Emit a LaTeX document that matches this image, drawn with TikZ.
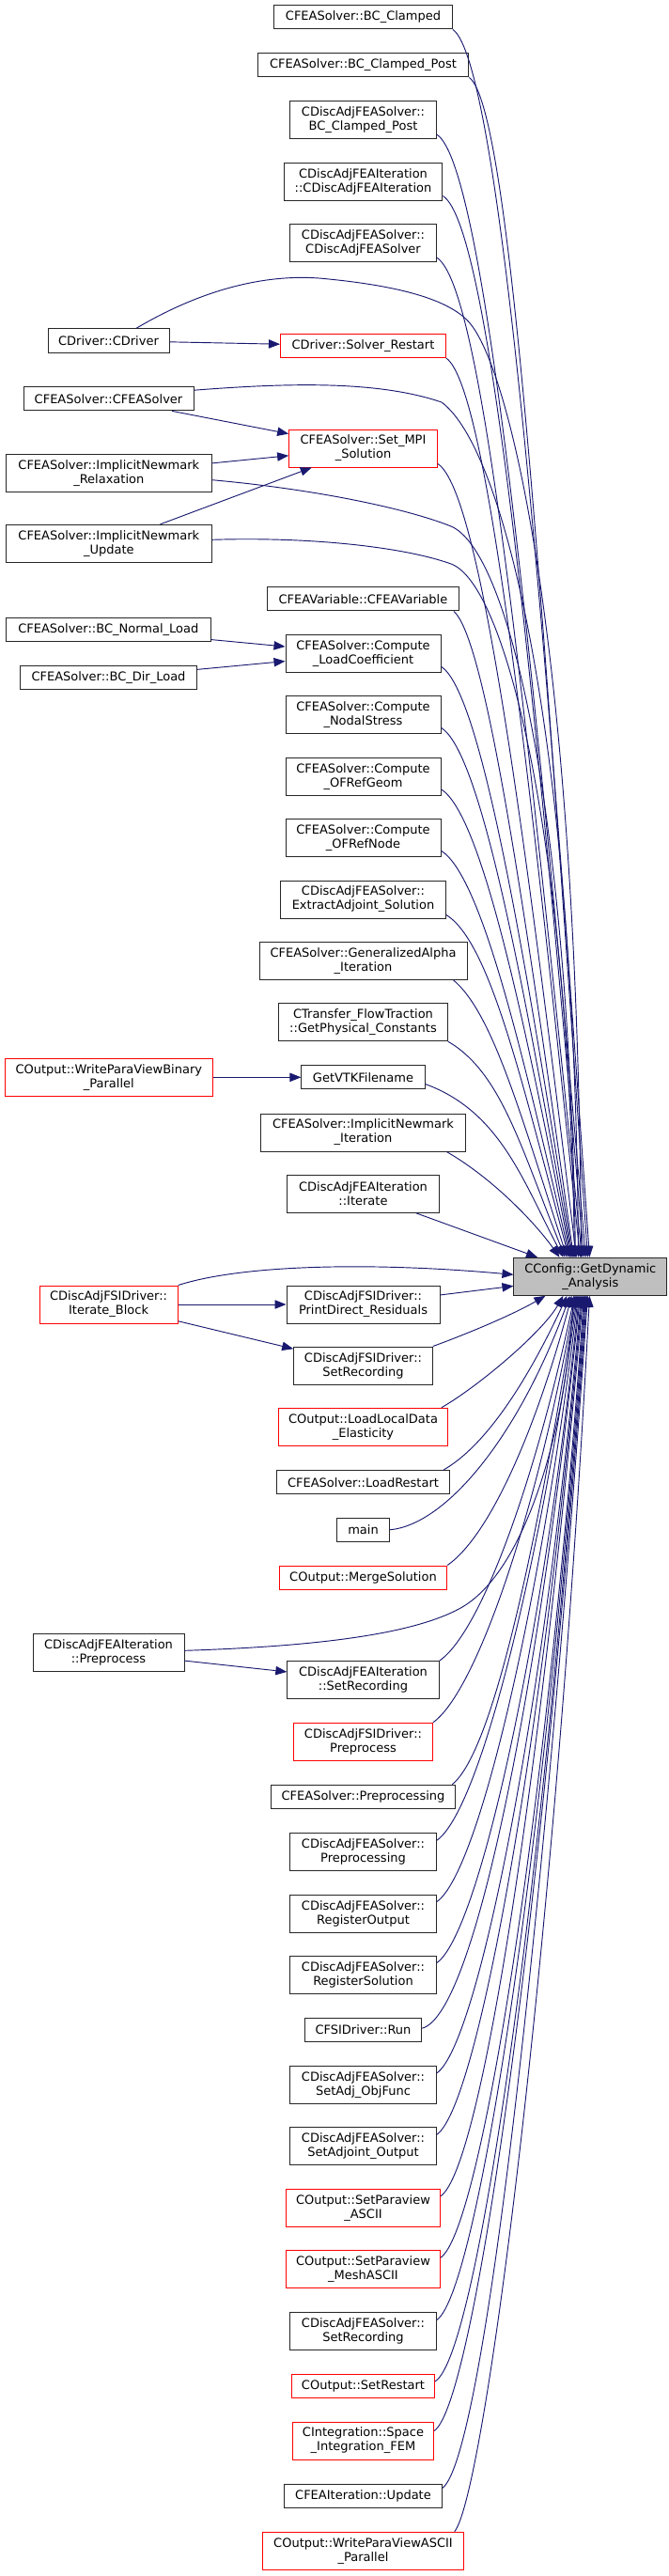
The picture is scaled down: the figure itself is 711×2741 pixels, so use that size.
\documentclass[tikz,border=0pt]{standalone}
\usepackage{fontspec}
\setmainfont{DejaVu Sans}
\usetikzlibrary{arrows.meta,calc}
\definecolor{edgeblue}{HTML}{191970}
\definecolor{nodered}{HTML}{FF0000}
\definecolor{tgtgray}{HTML}{BFBFBF}
\begin{document}
\begin{tikzpicture}[x=0.75pt,y=-0.75pt,
  fn/.style={draw=black!85, line width=0.75pt, fill=white, align=center, inner sep=0pt,
    font=\fontsize{9.75}{11.25}\selectfont, text=black},
  rn/.style={fn, draw=nodered},
  tn/.style={fn, fill=tgtgray},
  one/.style={minimum height=19pt},
  two/.style={minimum height=30pt},
  edge/.style={draw=edgeblue, line width=0.7pt, -{Triangle[length=9pt,width=7pt]}, fill=none}
]
\useasboundingbox (0,0) rectangle (711,2741);
% ---------- nodes ----------
\node[fn,one,minimum width=142.5pt] (bcc) at (386.5,18.3) {CFEASolver::BC\_Clamped};
\node[fn,one,minimum width=168.5pt] (bccp) at (386.5,69.3) {CFEASolver::BC\_Clamped\_Post};
\node[fn,two,minimum width=116.9pt] (dabcp) at (386.5,127.7) {CDiscAdjFEASolver::\\BC\_Clamped\_Post};
\node[fn,two,minimum width=126.6pt] (dafeait) at (386.5,193) {CDiscAdjFEAIteration\\::CDiscAdjFEAIteration};
\node[fn,two,minimum width=116.9pt] (dafeas) at (386.5,258.7) {CDiscAdjFEASolver::\\CDiscAdjFEASolver};
\node[fn,one,minimum width=96.75pt] (cdrv) at (115.5,362.5) {CDriver::CDriver};
\node[rn,one,minimum width=132pt] (solrest) at (386.5,368) {CDriver::Solver\_Restart};
\node[fn,one,minimum width=135.75pt] (cfeas) at (115.5,424.2) {CFEASolver::CFEASolver};
\node[rn,two,minimum width=118.3pt] (setmpi) at (386.5,477) {CFEASolver::Set\_MPI\\\_Solution};
\node[fn,two,minimum width=164.1pt] (relax) at (115.8,503.7) {CFEASolver::ImplicitNewmark\\\_Relaxation};
\node[fn,two,minimum width=164.1pt] (update) at (115.8,578.3) {CFEASolver::ImplicitNewmark\\\_Update};
\node[fn,one,minimum width=152.8pt] (cfeavar) at (386.5,637.3) {CFEAVariable::CFEAVariable};
\node[fn,one,minimum width=163.4pt] (bcnl) at (115.3,670.3) {CFEASolver::BC\_Normal\_Load};
\node[fn,two,minimum width=123.75pt] (loadcoef) at (386.5,695.8) {CFEASolver::Compute\\\_LoadCoefficient};
\node[fn,one,minimum width=141.2pt] (bcdl) at (115.5,721.2) {CFEASolver::BC\_Dir\_Load};
\node[fn,two,minimum width=123.75pt] (nodal) at (386.5,760.8) {CFEASolver::Compute\\\_NodalStress};
\node[fn,two,minimum width=123.75pt] (ofrg) at (386.5,826.3) {CFEASolver::Compute\\\_OFRefGeom};
\node[fn,two,minimum width=123.75pt] (ofrn) at (386.5,891.7) {CFEASolver::Compute\\\_OFRefNode};
\node[fn,two,minimum width=132pt] (extract) at (386.5,957) {CDiscAdjFEASolver::\\ExtractAdjoint\_Solution};
\node[fn,two,minimum width=165.75pt] (genalpha) at (386.5,1022.3) {CFEASolver::GeneralizedAlpha\\\_Iteration};
\node[fn,two,minimum width=134.7pt] (getphys) at (386.5,1087.7) {CTransfer\_FlowTraction\\::GetPhysical\_Constants};
\node[rn,two,minimum width=166.1pt] (wpvb) at (115.8,1146.3) {COutput::WriteParaViewBinary\\\_Parallel};
\node[fn,one,minimum width=98.4pt] (getvtk) at (386.5,1146.3) {GetVTKFilename};
\node[fn,two,minimum width=164pt] (inewit) at (386.5,1205) {CFEASolver::ImplicitNewmark\\\_Iteration};
\node[fn,two,minimum width=121.35pt] (iter) at (386.5,1270.3) {CDiscAdjFEAIteration\\::Iterate};
\node[tn,two,minimum width=122pt] (T) at (628.3,1358.3) {CConfig::GetDynamic\\\_Analysis};
\node[rn,two,minimum width=110.4pt] (iterblock) at (115.6,1388) {CDiscAdjFSIDriver::\\Iterate\_Block};
\node[fn,two,minimum width=122.25pt] (printdr) at (386.5,1388) {CDiscAdjFSIDriver::\\PrintDirect\_Residuals};
\node[fn,two,minimum width=110.7pt] (fsisetrec) at (386.5,1453) {CDiscAdjFSIDriver::\\SetRecording};
\node[rn,two,minimum width=134.7pt] (loadlocal) at (386.5,1518.3) {COutput::LoadLocalData\\\_Elasticity};
\node[fn,one,minimum width=138.15pt] (loadrestart) at (386.5,1577.2) {CFEASolver::LoadRestart};
\node[fn,one,minimum width=41.5pt] (main) at (386.5,1627.8) {main};
\node[rn,one,minimum width=133.8pt] (merge) at (386.5,1678.7) {COutput::MergeSolution};
\node[fn,two,minimum width=120.75pt] (preproc) at (115.5,1758.3) {CDiscAdjFEAIteration\\::Preprocess};
\node[fn,two,minimum width=121pt] (feasetrec) at (386.5,1787.7) {CDiscAdjFEAIteration\\::SetRecording};
\node[rn,two,minimum width=110.7pt] (fsiprep) at (386.5,1853.3) {CDiscAdjFSIDriver::\\Preprocess};
\node[fn,one,minimum width=147.4pt] (cfeaprep) at (386.5,1911.8) {CFEASolver::Preprocessing};
\node[fn,two,minimum width=116.9pt] (daprep) at (386.5,1970.7) {CDiscAdjFEASolver::\\Preprocessing};
\node[fn,two,minimum width=116.9pt] (dareg) at (386.5,2036) {CDiscAdjFEASolver::\\RegisterOutput};
\node[fn,two,minimum width=116.9pt] (daregsol) at (386.5,2101) {CDiscAdjFEASolver::\\RegisterSolution};
\node[fn,one,minimum width=93.4pt] (fsirun) at (386.5,2159.7) {CFSIDriver::Run};
\node[fn,two,minimum width=116.9pt] (dasetadj) at (386.5,2218.3) {CDiscAdjFEASolver::\\SetAdj\_ObjFunc};
\node[fn,two,minimum width=116.9pt] (dasetadjout) at (386.5,2283.7) {CDiscAdjFEASolver::\\SetAdjoint\_Output};
\node[rn,two,minimum width=123pt] (spascii) at (386.5,2349.3) {COutput::SetParaview\\\_ASCII};
\node[rn,two,minimum width=123pt] (spmesh) at (386.5,2414.7) {COutput::SetParaview\\\_MeshASCII};
\node[fn,two,minimum width=116.9pt] (dasetrec) at (386.5,2480) {CDiscAdjFEASolver::\\SetRecording};
\node[rn,one,minimum width=113.85pt] (setrestart) at (386.5,2538.7) {COutput::SetRestart};
\node[rn,two,minimum width=112.8pt] (spaceint) at (386.5,2597) {CIntegration::Space\\\_Integration\_FEM};
\node[fn,one,minimum width=125.55pt] (feaupdate) at (386.5,2655.7) {CFEAIteration::Update};
\node[rn,two,minimum width=160pt] (wpva) at (386.5,2714.3) {COutput::WriteParaViewASCII\\\_Parallel};
% ---------- straight edges ----------
\draw[edge] (cdrv) -- (solrest);
\draw[edge] (cfeas) -- (setmpi);
\draw[edge] (relax) -- (setmpi);
\draw[edge] (update) -- (setmpi);
\draw[edge] (bcnl) -- (loadcoef);
\draw[edge] (bcdl) -- (loadcoef);
\draw[edge] (wpvb) -- (getvtk);
\draw[edge] (iterblock) -- (printdr);
\draw[edge] (iterblock) -- (fsisetrec);
\draw[edge] (preproc) -- (feasetrec);
\draw[edge] (iter) -- (T);
\draw[edge] (printdr) -- (T);
% ---------- edges from above into the target ----------
\draw[edge] (bcc.south east) to[out=-35,in=94,out distance=45pt,in distance=525pt] ($(T.north west)+(81,0)$);
\draw[edge] (bccp.south east) to[out=-35,in=94,out distance=41pt,in distance=502pt] ($(T.north west)+(79,0)$);
\draw[edge] ($(dabcp.south east)+(0,-5)$) to[out=-32,in=95,out distance=45pt,in distance=480pt] ($(T.north west)+(77,0)$);
\draw[edge] ($(dafeait.south east)+(0,-5)$) to[out=-32,in=95,out distance=45pt,in distance=450pt] ($(T.north west)+(75,0)$);
\draw[edge] ($(dafeas.south east)+(0,-5)$) to[out=-32,in=96,out distance=45pt,in distance=420pt] ($(T.north west)+(73,0)$);
\draw[edge] (solrest.south east) to[out=-35,in=96,out distance=41pt,in distance=375pt] ($(T.north west)+(71,0)$);
\draw[edge] ($(setmpi.south east)+(0,-4)$) to[out=-32,in=97,out distance=41pt,in distance=330pt] ($(T.north west)+(67,0)$);
\draw[edge] ($(cfeavar.south east)+(-6,0)$) to[out=-40,in=98,out distance=34pt,in distance=270pt] ($(T.north west)+(64,0)$);
\draw[edge] ($(loadcoef.south east)+(0,-7)$) to[out=-32,in=99,out distance=37.5pt,in distance=247pt] ($(T.north west)+(63,0)$);
\draw[edge] ($(nodal.south east)+(0,-7)$) to[out=-32,in=100,out distance=37.5pt,in distance=225pt] ($(T.north west)+(62,0)$);
\draw[edge] ($(ofrg.south east)+(0,-7)$) to[out=-32,in=101,out distance=37.5pt,in distance=199pt] ($(T.north west)+(61,0)$);
\draw[edge] ($(ofrn.south east)+(0,-7)$) to[out=-32,in=103,out distance=37.5pt,in distance=172pt] ($(T.north west)+(60,0)$);
\draw[edge] ($(extract.south east)+(0,-4)$) to[out=-32,in=105,out distance=41pt,in distance=146pt] ($(T.north west)+(59,0)$);
\draw[edge] ($(genalpha.south east)+(-15,0)$) to[out=-40,in=108,out distance=41pt,in distance=120pt] ($(T.north west)+(57,0)$);
\draw[edge] (getphys.south east) to[out=-30,in=112,out distance=49pt,in distance=94pt] ($(T.north west)+(55,0)$);
\draw[edge] ($(getvtk.south east)+(0,-6)$) to[out=-20,in=118,out distance=64pt,in distance=67.5pt] ($(T.north west)+(53,0)$);
\draw[edge] ($(inewit.south east)+(-21,0)$) to[out=-30,in=125,out distance=45pt,in distance=30pt] ($(T.north west)+(49,0)$);
% long edges from the left column
\draw[edge] ($(cdrv.north)+(29.5,0)$) .. controls (220,305) and (290,290) .. (350,297)
   .. controls (420,304) and (479,317.5) .. (501,345)
   .. controls (545,400) and (615,700) .. ($(T.north west)+(72,0)$);
\draw[edge] ($(cfeas.east)+(0,-9)$) .. controls (300,408) and (400,404) .. (470,428)
   .. controls (540,480) and (612,800) .. ($(T.north west)+(69,0)$);
\draw[edge] ($(relax.east)+(0,7)$) .. controls (330,520) and (430,540) .. (480,560)
   .. controls (540,585) and (605,850) .. ($(T.north west)+(66,0)$);
\draw[edge] ($(update.east)+(0,-4)$) .. controls (330,571) and (430,582) .. (480,600)
   .. controls (540,622) and (605,900) .. ($(T.north west)+(65,0)$);
\draw[edge] (iterblock.north east) .. controls (260,1345) and (400,1343) .. ($(T.west)+(0,-2)$);
\draw[edge] ($(preproc.east)+(0,-2)$) .. controls (330,1752) and (440,1740) .. (492,1710)
   .. controls (560,1670) and (602,1520) .. ($(T.south west)+(64,0)$);
% ---------- edges from below into the target ----------
\draw[edge] (fsisetrec.north east) to[out=20,in=-150,out distance=30pt,in distance=30pt] ($(T.south west)+(34,0)$);
\draw[edge] ($(loadlocal.north east)+(-7,0)$) to[out=30,in=-120,out distance=34pt,in distance=34pt] ($(T.south west)+(53,0)$);
\draw[edge] ($(loadrestart.north east)+(-7,0)$) to[out=30,in=-115,out distance=45pt,in distance=60pt] ($(T.south west)+(57,0)$);
\draw[edge] (main.east) to[out=5,in=-110,out distance=45pt,in distance=120pt] ($(T.south west)+(60,0)$);
\draw[edge] (merge.north east) to[out=35,in=-105,out distance=41pt,in distance=112pt] ($(T.south west)+(62,0)$);
\draw[edge] (feasetrec.north east) to[out=35,in=-102,out distance=41pt,in distance=150pt] ($(T.south west)+(65,0)$);
\draw[edge] (fsiprep.north east) to[out=35,in=-100,out distance=41pt,in distance=180pt] ($(T.south west)+(66,0)$);
\draw[edge] ($(cfeaprep.north east)+(-4,0)$) to[out=38,in=-99,out distance=41pt,in distance=202pt] ($(T.south west)+(67,0)$);
\draw[edge] ($(daprep.north east)+(0,8)$) to[out=35,in=-98,out distance=41pt,in distance=225pt] ($(T.south west)+(68,0)$);
\draw[edge] ($(dareg.north east)+(0,8)$) to[out=35,in=-97,out distance=41pt,in distance=247pt] ($(T.south west)+(69,0)$);
\draw[edge] ($(daregsol.north east)+(0,8)$) to[out=35,in=-96,out distance=41pt,in distance=277pt] ($(T.south west)+(70,0)$);
\draw[edge] ($(fsirun.east)+(0,-1.5)$) to[out=15,in=-96,out distance=45pt,in distance=300pt] ($(T.south west)+(71,0)$);
\draw[edge] ($(dasetadj.north east)+(0,8)$) to[out=35,in=-95,out distance=41pt,in distance=322pt] ($(T.south west)+(72,0)$);
\draw[edge] ($(dasetadjout.north east)+(0,8)$) to[out=35,in=-95,out distance=41pt,in distance=345pt] ($(T.south west)+(73,0)$);
\draw[edge] ($(spascii.north east)+(0,8)$) to[out=35,in=-95,out distance=41pt,in distance=367pt] ($(T.south west)+(74,0)$);
\draw[edge] ($(spmesh.north east)+(0,8)$) to[out=35,in=-94,out distance=41pt,in distance=390pt] ($(T.south west)+(75,0)$);
\draw[edge] ($(dasetrec.north east)+(0,9)$) to[out=35,in=-94,out distance=41pt,in distance=420pt] ($(T.south west)+(76,0)$);
\draw[edge] ($(setrestart.east)+(0,-4.7)$) to[out=30,in=-94,out distance=41pt,in distance=442pt] ($(T.south west)+(77,0)$);
\draw[edge] ($(spaceint.north east)+(0,10)$) to[out=35,in=-94,out distance=41pt,in distance=465pt] ($(T.south west)+(78,0)$);
\draw[edge] ($(feaupdate.north east)+(0,5)$) to[out=35,in=-94,out distance=41pt,in distance=487pt] ($(T.south west)+(79,0)$);
\draw[edge] ($(wpva.north east)+(-10,0)$) to[out=50,in=-93,out distance=38pt,in distance=510pt] ($(T.south west)+(81,0)$);
\end{tikzpicture}
\end{document}
